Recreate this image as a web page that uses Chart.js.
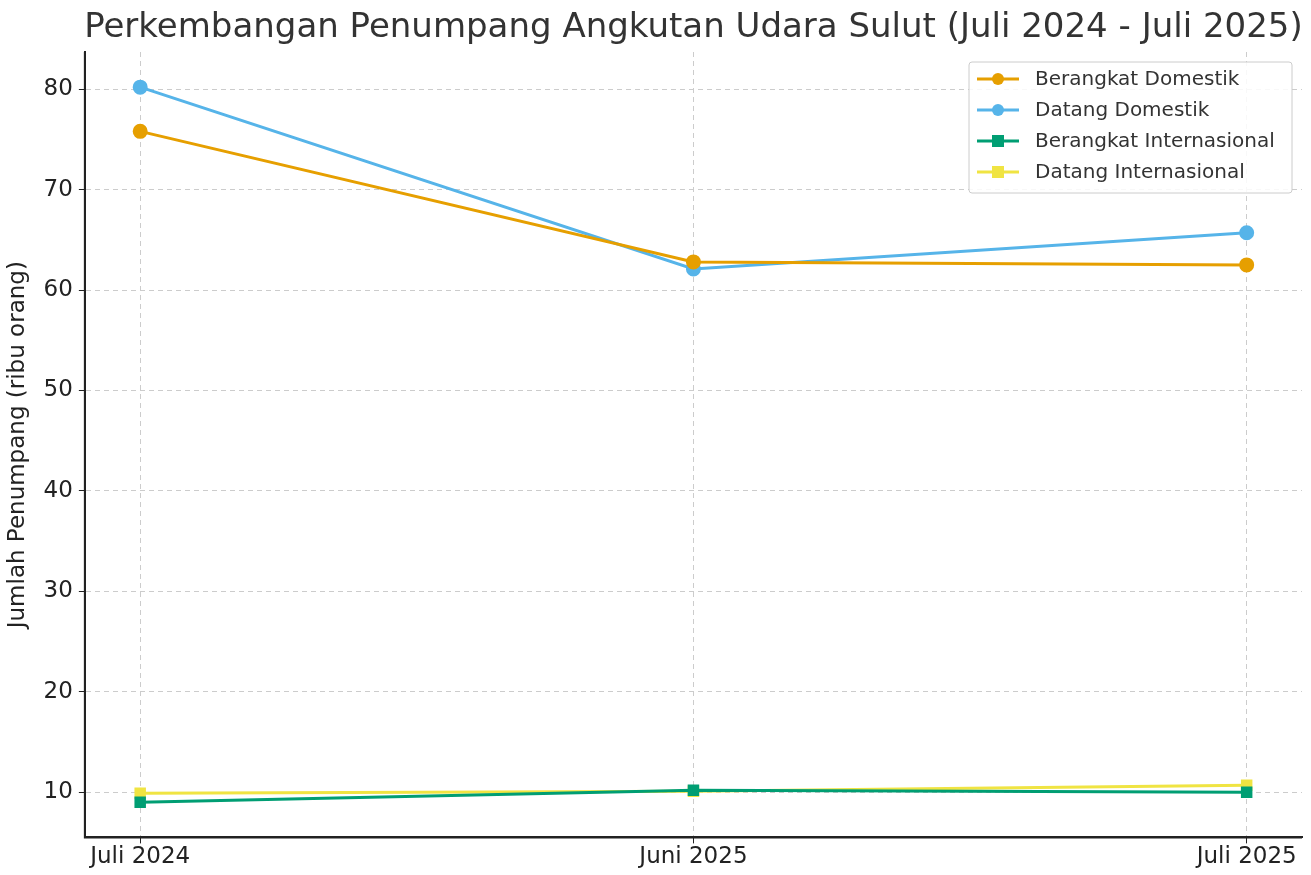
<!DOCTYPE html>
<html><head><meta charset="utf-8">
<script src="https://cdn.jsdelivr.net/npm/chart.js"></script>
<style>html,body{margin:0;background:#fff}#w{width:1311px;height:875px}</style>
</head><body><div id="w"><canvas id="c"></canvas></div>
<script>
const categories=["Juli 2024","Juni 2025","Juli 2025"];
const berangkatDomestik=[75.8,62.8,62.5];
const datangDomestik=[80.2,62.1,65.7];
const berangkatInternasional=[9.0,10.2,10.0];
const datangInternasional=[9.9,10.1,10.7];
const yTicks=[10,20,30,40,50,60,70,80];
const titleText="Perkembangan Penumpang Angkutan Udara Sulut (Juli 2024 - Juli 2025)";
const F="DejaVu Sans";
function ds(label,vals,color,style){return{label,data:vals.map((v,i)=>({x:i,y:v})),borderColor:color,backgroundColor:color,borderWidth:3,pointStyle:style,pointRadius:6,pointHoverRadius:6,tension:0};}
const legendPlugin={id:'lg',afterDraw(ch){const c=ch.ctx;const x0=969,y0=62,w=323,h=131;c.save();c.fillStyle='rgba(255,255,255,0.85)';c.strokeStyle='#ccc';c.lineWidth=1;c.beginPath();c.roundRect(x0,y0,w,h,3);c.fill();c.stroke();c.font='20px "'+F+'"';c.textBaseline='middle';ch.data.datasets.forEach((d,i)=>{const y=y0+17+i*31;c.strokeStyle=d.borderColor;c.lineWidth=3;c.beginPath();c.moveTo(977,y);c.lineTo(1019,y);c.stroke();c.fillStyle=d.borderColor;if(d.pointStyle==='rect')c.fillRect(992,y-6,12,12);else{c.beginPath();c.arc(998,y,6,0,7);c.fill();}c.fillStyle='#333';c.fillText(d.label,1035,y+1);});
c.font='34px "'+F+'"';c.textAlign='center';c.textBaseline='middle';c.fillStyle='#333';c.fillText(titleText,(ch.chartArea.left+ch.chartArea.right)/2,28);c.restore();}};
new Chart(document.getElementById('c'),{type:'line',data:{datasets:[ds("Berangkat Domestik",berangkatDomestik,"#E69F00","circle"),ds("Datang Domestik",datangDomestik,"#56B4E9","circle"),ds("Berangkat Internasional",berangkatInternasional,"#009E73","rect"),ds("Datang Internasional",datangInternasional,"#F0E442","rect")]},
options:{responsive:true,maintainAspectRatio:false,animation:false,layout:{padding:{left:4,right:8,top:52,bottom:4}},
plugins:{legend:{display:false},tooltip:{enabled:false},title:{display:false}},
scales:{x:{type:'linear',min:-0.1,max:2.1,afterBuildTicks(a){a.ticks=[0,1,2].map(v=>({value:v}));},ticks:{callback:v=>categories[v],color:'#222',font:{family:F,size:23},autoSkip:false,maxRotation:0,padding:0},grid:{color:'#ccc',tickLength:6,tickColor:'#222'},border:{display:true,color:'#222',width:2,dash:[5,4]}},
y:{min:5.5,max:83.7,afterBuildTicks(a){a.ticks=yTicks.map(v=>({value:v}));},ticks:{color:'#222',font:{family:F,size:23},padding:6},grid:{color:'#ccc',tickLength:6,tickColor:'#222'},border:{color:'#222',width:2,dash:[5,4]},title:{display:true,text:"Jumlah Penumpang (ribu orang)",color:'#222',font:{family:F,size:23},padding:{top:0,bottom:6}}}}},
plugins:[legendPlugin,{id:'ax',afterDraw(ch){const c=ch.ctx,a=ch.chartArea;c.save();c.strokeStyle='#222';c.lineWidth=2;c.beginPath();c.moveTo(a.left,a.top);c.lineTo(a.left,a.bottom);c.lineTo(a.right,a.bottom);c.stroke();c.restore();}}]});
</script></body></html>
